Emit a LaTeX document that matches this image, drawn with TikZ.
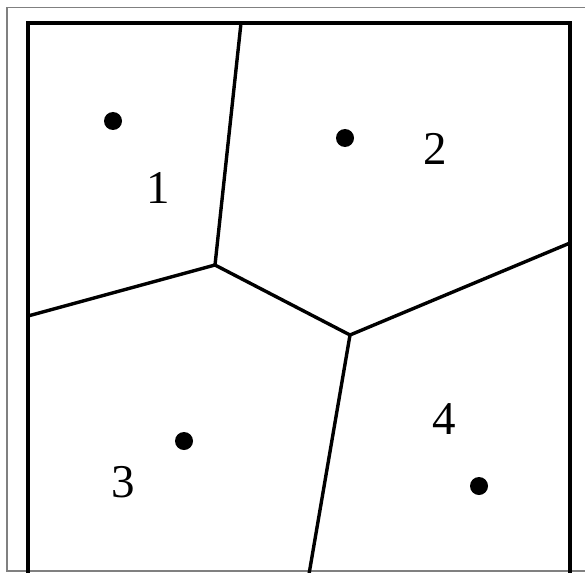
\documentclass[tikz,border=0pt]{standalone}
\usepackage{fontspec}
\setmainfont{Liberation Serif}
\begin{document}
\begin{tikzpicture}[x=1pt, y=-1pt,
    site/.style={circle, fill=black, inner sep=0pt, minimum size=18pt},
    cellnum/.style={font=\fontsize{47}{47}\selectfont, inner sep=0pt}]
    \clip (0,0) rectangle (585,572);
    \useasboundingbox (0,0) rectangle (585,572);
    \draw[gray, line width=1.3pt] (7,7.5) rectangle (600,571);
    \draw[line width=4.5pt] (28,23) rectangle (570,620);

    % Voronoi vertices
    \coordinate (top) at (241,23);
    \coordinate (left) at (28,316);
    \coordinate (right) at (570,243);
    \coordinate (bottom) at (308,580);
    \coordinate (va) at (215,265);
    \coordinate (vb) at (350,335);

    \draw[line width=3.4pt, line join=round] (top) -- (va) -- (left);
    \draw[line width=3.4pt, line join=round] (va) -- (vb) -- (right);
    \draw[line width=3.4pt] (vb) -- (bottom);

    % sites and labels
    \node[site] (site1) at (113,121) {};
    \node[site] (site2) at (345,138) {};
    \node[site] (site3) at (184,441) {};
    \node[site] (site4) at (479,486) {};
    \node[cellnum] (num1) at (158,188) {1};
    \node[cellnum] (num2) at (435,149) {2};
    \node[cellnum] (num3) at (123,482) {3};
    \node[cellnum] (num4) at (444,419) {4};
\end{tikzpicture}
\end{document}
